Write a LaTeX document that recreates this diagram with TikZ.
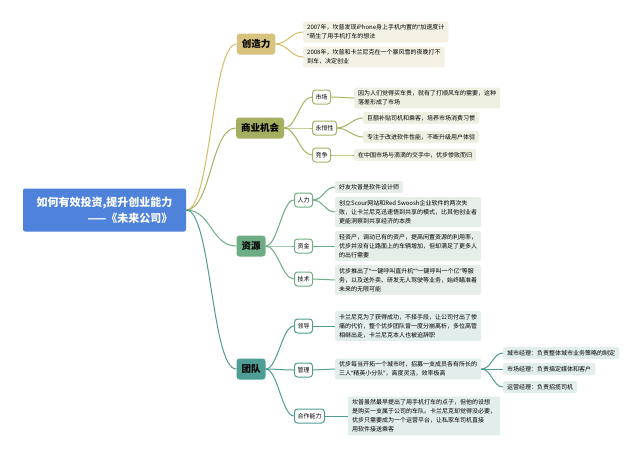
\documentclass[tikz,border=0pt]{standalone}
\usepackage{fontspec}
\setmainfont{Noto Sans CJK SC}
\newfontfamily\quotefont{Noto Sans}
\newcommand{\qopen}{{\quotefont “}}
\newcommand{\qclose}{{\quotefont ”}}

\definecolor{rootblue}{HTML}{4F82DA}
\definecolor{goldmain}{HTML}{D8C37E}
\definecolor{goldline}{HTML}{D6BC68}
\definecolor{goldleaf}{HTML}{F4F0E3}
\definecolor{olivemain}{HTML}{A6AE5F}
\definecolor{oliveline}{HTML}{A9B162}
\definecolor{oliveleaf}{HTML}{EEF0E2}
\definecolor{greenmain}{HTML}{6DAD85}
\definecolor{greenline}{HTML}{6CAE84}
\definecolor{greenleaf}{HTML}{E5EFE8}
\definecolor{tealmain}{HTML}{4E9D94}
\definecolor{tealline}{HTML}{4E9D94}
\definecolor{tealleaf}{HTML}{E2EEEC}

\tikzset{
  rootbox/.style={fill=rootblue, rounded corners=2pt, text=white, align=right,
    font=\fontsize{11}{16}\selectfont\bfseries, minimum width=163pt, minimum height=43pt},
  mainbox/.style={rounded corners=3pt, font=\fontsize{9.5}{11}\selectfont\bfseries,
    minimum height=21pt, inner xsep=5pt},
  subbox/.style={draw=#1, line width=1pt, fill=white, rounded corners=3pt, anchor=west,
    font=\fontsize{6}{7}\selectfont, minimum height=14pt, inner xsep=3pt},
  leaf/.style={fill=#1, rounded corners=1.5pt, anchor=west, align=left,
    font=\fontsize{6}{9}\selectfont, inner xsep=4pt, inner ysep=3pt},
  link/.style={draw=#1, line width=1pt},
}

\begin{document}
\begin{tikzpicture}[x=1pt, y=-1pt]
    \fill[white] (0,0) rectangle (640,459);

    % Root
    \node[rootbox] (root) at (104.5,210) {如何有效投资,提升创业能力\\——《未来公司》};

    % Creativity
    \node[mainbox, fill=goldmain] (cre) at (256,44) {创造力};
    \node[leaf=goldleaf] (cre1) at (303,32) {2007年，坎普发现iPhone身上手机内置的\qopen 加速度计\\\qclose 萌生了用手机打车的想法};
    \node[leaf=goldleaf] (cre2) at (303,57) {2008年，坎普和卡兰尼克在一个暴风雪的夜晚打不\\到车，决定创业};
    \draw[link=goldline] (root.east) .. controls +(25,0) and +(-25,0) .. (cre.west);
    \draw[link=goldline] (cre.east) .. controls +(12,0) and +(-12,0) .. (cre1.west);
    \draw[link=goldline] (cre.east) .. controls +(12,0) and +(-12,0) .. (cre2.west);

    % Business opportunity
    \node[mainbox, fill=olivemain] (biz) at (260,128) {商业机会};
    \node[subbox=oliveline] (mkt) at (312,97) {市场};
    \node[subbox=oliveline] (lasting) at (312,128) {永恒性};
    \node[subbox=oliveline] (comp) at (312,155) {竞争};
    \node[leaf=oliveleaf] (mktleaf) at (354,98) {因为人们觉得买车贵，就有了打顺风车的需要，这种\\落差形成了市场};
    \node[leaf=oliveleaf] (lasting1) at (363,118) {巨额补贴司机和乘客，培养市场消费习惯};
    \node[leaf=oliveleaf] (lasting2) at (363,137) {专注于改进软件性能，不断升级用户体验};
    \node[leaf=oliveleaf] (compleaf) at (354,155) {在中国市场与滴滴的交手中，优步惨败而归};
    \draw[link=oliveline] (root.east) .. controls +(25,0) and +(-25,0) .. (biz.west);
    \foreach \s in {mkt, lasting, comp}
        \draw[link=oliveline] (biz.east) .. controls +(12,0) and +(-12,0) .. (\s.west);
    \draw[link=oliveline] (mkt.east) .. controls +(10,0) and +(-10,0) .. (mktleaf.west);
    \draw[link=oliveline] (lasting.east) .. controls +(10,0) and +(-10,0) .. (lasting1.west);
    \draw[link=oliveline] (lasting.east) .. controls +(10,0) and +(-10,0) .. (lasting2.west);
    \draw[link=oliveline] (comp.east) .. controls +(10,0) and +(-10,0) .. (compleaf.west);

    % Resources
    \node[mainbox, fill=greenmain] (res) at (251,246) {资源};
    \node[subbox=greenline] (hr) at (294,200) {人力};
    \node[subbox=greenline] (fund) at (294,246) {资金};
    \node[subbox=greenline] (tech) at (294,279) {技术};
    \node[leaf=greenleaf] (hr1) at (335,187) {好友坎普是软件设计师};
    \node[leaf=greenleaf] (hr2) at (335,212) {创立Scour网站和Red Swoosh企业软件的两次失\\败，让卡兰尼克迅速悟到共享的模式，比其他创业者\\更能洞察到共享经济的本质};
    \node[leaf=greenleaf] (fundleaf) at (335,246) {轻资产，调动已有的资产，提高闲置资源的利用率，\\优步并没有让路面上的车辆增加，但却满足了更多人\\的出行需要};
    \node[leaf=greenleaf] (techleaf) at (335,280) {优步推出了\qopen 一键呼叫直升机\qclose\qopen 一键呼叫一个亿\qclose 等服\\务，以及送外卖、研发无人驾驶等业务，始终瞄准着\\未来的无限可能};
    \draw[link=greenline] (root.east) .. controls +(25,0) and +(-25,0) .. (res.west);
    \foreach \s in {hr, fund, tech}
        \draw[link=greenline] (res.east) .. controls +(12,0) and +(-12,0) .. (\s.west);
    \draw[link=greenline] (hr.east) .. controls +(10,0) and +(-10,0) .. (hr1.west);
    \draw[link=greenline] (hr.east) .. controls +(10,0) and +(-10,0) .. (hr2.west);
    \draw[link=greenline] (fund.east) -- (fundleaf.west);
    \draw[link=greenline] (tech.east) -- (techleaf.west);

    % Team
    \node[mainbox, fill=tealmain] (team) at (251,369) {团队};
    \node[subbox=tealline] (lead) at (294,326) {领导};
    \node[subbox=tealline] (mgmt) at (294,370) {管理};
    \node[subbox=tealline] (coop) at (294,416) {合作能力};
    \node[leaf=tealleaf] (leadleaf) at (335,326) {卡兰尼克为了获得成功，不择手段，让公司付出了惨\\痛的代价，整个优步团队曾一度分崩离析，多位高管\\相继出走，卡兰尼克本人也被迫辞职};
    \node[leaf=tealleaf] (mgmtleaf) at (335,369) {优步每当开拓一个城市时，招募一支成员各有所长的\\三人\qopen 精英小分队\qclose ，高度灵活，效率极高};
    \node[leaf=tealleaf] (coopleaf) at (348,416) {坎普虽然最早提出了用手机打车的点子，但他的设想\\是购买一支属于公司的车队。卡兰尼克却觉得没必要，\\优步只需要成为一个运营平台，让私家车司机直接\\用软件接送乘客};
    \node[leaf=tealleaf] (city) at (503,353) {城市经理：负责整体城市业务策略的制定};
    \node[leaf=tealleaf] (media) at (503,369) {市场经理：负责搞定媒体和客户};
    \node[leaf=tealleaf] (ops) at (503,387) {运营经理：负责招揽司机};
    \draw[link=tealline] (root.east) .. controls +(25,0) and +(-25,0) .. (team.west);
    \foreach \s in {lead, mgmt, coop}
        \draw[link=tealline] (team.east) .. controls +(12,0) and +(-12,0) .. (\s.west);
    \draw[link=tealline] (lead.east) -- (leadleaf.west);
    \draw[link=tealline] (mgmt.east) -- (mgmtleaf.west);
    \draw[link=tealline] (coop.east) -- (coopleaf.west);
    \foreach \s in {city, media, ops}
        \draw[link=tealline] (mgmtleaf.east) .. controls +(10,0) and +(-10,0) .. (\s.west);

\end{tikzpicture}
\end{document}
